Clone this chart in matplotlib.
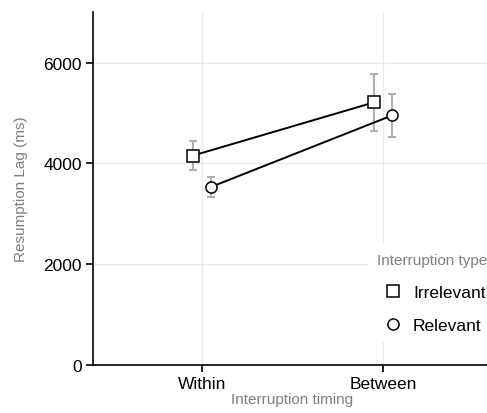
import matplotlib
matplotlib.use("Agg")
import matplotlib.pyplot as plt
import numpy as np

plt.rcParams['font.family'] = ['Liberation Sans', 'DejaVu Sans']

timing = ["Within", "Between"]
irrelevant_mean = [4155, 5213]
irrelevant_err = [285, 562]
relevant_mean = [3533, 4955]
relevant_err = [205, 423]

W, H = 487, 414
fig = plt.figure(figsize=(W / 100, H / 100), dpi=100)
ax = fig.add_axes([93 / W, (H - 366) / H, (492 - 93) / W, (366 - 13.3) / H])

x = np.arange(len(timing))
dodge = 0.05
series = [
    ("Irrelevant", irrelevant_mean, irrelevant_err, "s", -dodge),
    ("Relevant", relevant_mean, relevant_err, "o", dodge),
]
for name, mean, err, marker, off in series:
    xs = x + off
    ax.errorbar(xs, mean, yerr=err, fmt="none", ecolor="#b0b0b0",
                elinewidth=1.5, capsize=3, capthick=1.5, zorder=2)
    ax.plot(xs, mean, color="black", linewidth=1.4, zorder=3)
    ax.plot(xs, mean, linestyle="none", marker=marker, markersize=8,
            markerfacecolor="white", markeredgecolor="black",
            markeredgewidth=1.1, zorder=4, label=name)

ax.set_xlim(-0.6, 1.6)
ax.set_ylim(0, 7000)
ax.set_xticks(x)
ax.set_xticklabels(timing)
ax.set_yticks([0, 2000, 4000, 6000])

for s in ["top", "right"]:
    ax.spines[s].set_visible(False)
for s in ["left", "bottom"]:
    ax.spines[s].set_linewidth(1.2)
    ax.spines[s].set_color("black")
ax.tick_params(axis="both", length=5, width=1.2, color="black",
               labelsize=12.5, labelcolor="black", pad=3)

ax.grid(True, color="#ebebeb", linewidth=0.9, zorder=0)
ax.set_axisbelow(True)

ax.set_xlabel("Interruption timing", fontsize=11, color="#7f7f7f", labelpad=1)
ax.set_ylabel("Resumption Lag (ms)", fontsize=11, color="#7f7f7f", labelpad=11)

leg = ax.legend(loc="upper left", bbox_to_anchor=(368 / W, 1 - 245 / H),
                bbox_transform=fig.transFigure, title="Interruption type",
                fontsize=12.5, title_fontsize=11, frameon=True,
                facecolor="white", edgecolor="none", framealpha=1,
                fancybox=False, handlelength=1.84, handletextpad=0.23,
                labelspacing=1.03, borderpad=0.52, borderaxespad=0,
                alignment="left")
leg.get_title().set_color("#7f7f7f")
leg.set_zorder(5)

fig.savefig("out.png", dpi=100)
